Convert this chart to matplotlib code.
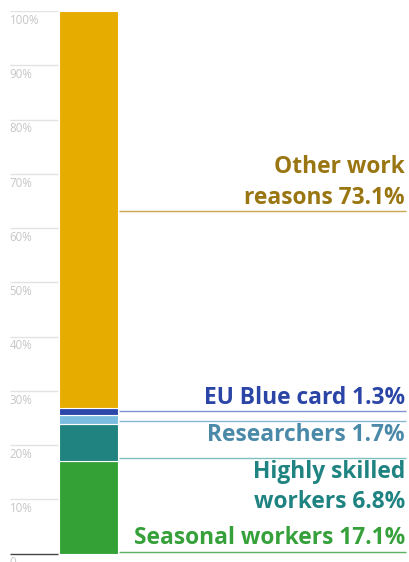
import matplotlib
import matplotlib.pyplot as plt
import numpy as np

matplotlib.rcParams['font.family'] = 'Open Sans'

# data
categories = ['Seasonal workers', 'Highly skilled\nworkers', 'Researchers',
              'EU Blue card', 'Other work\nreasons']
shares = [17.1, 6.8, 1.7, 1.3, 73.1]
tick_values = [0, 10, 20, 30, 40, 50, 60, 70, 80, 90, 100]
tick_labels = ['0', '10%', '20%', '30%', '40%', '50%', '60%', '70%', '80%', '90%', '100%']

bar_colors = ['#34a136', '#21837f', '#7bbde0', '#2b47a9', '#e6ac00']
text_colors = ['#36a03a', '#1f8381', '#4b89a9', '#2b45a6', '#9a7612']
line_colors = ['#5cb05e', '#7fc0bf', '#86b8d0', '#8290d2', '#c9a64a']

# leader line height (in %) and text placement for each label
leader_y = [0.4, 17.6, 24.4, 26.3, 63.1]
text_va = ['bottom', 'top', 'top', 'bottom', 'bottom']
text_dy = [1.2, -1.5, -1.5, 0.8, 0.8]
text_ls = [1.2, 1.32, 1.2, 1.2, 1.42]

W, H = 409, 562
fig = plt.figure(figsize=(W / 100, H / 100), dpi=100)
# y: 0% at pixel 553.7, 100% at pixel 11
ax = fig.add_axes([0, (H - 553.7) / H, 1, (553.7 - 11) / H])
ax.set_xlim(0, W)
ax.set_ylim(0, 100)
ax.axis('off')

# gridlines + tick labels
grid_x0, grid_x1 = 10, 58
for v, lab in zip(tick_values, tick_labels):
    if v == 0:
        ax.plot([grid_x0, grid_x1], [v, v], color='#444444', lw=1.0,
                solid_capstyle='butt', clip_on=False)
    else:
        ax.plot([grid_x0, grid_x1], [v, v], color='#e3e3e3', lw=1.0,
                solid_capstyle='butt')
    ax.annotate(lab, (grid_x0 - 0.5, v), xytext=(0, -2), textcoords='offset points',
                ha='left', va='top', fontsize=8.3, color='#c6c6c6',
                annotation_clip=False)

# stacked bar
bar_x0, bar_x1 = 59, 118
bottoms = np.concatenate([[0], np.cumsum(shares)[:-1]])
ax.bar((bar_x0 + bar_x1) / 2, shares, bottom=bottoms, width=bar_x1 - bar_x0,
       color=bar_colors, edgecolor='white', linewidth=0.8)

# leader lines and labels
line_x1 = 406
for cat, val, ly, va, dy, ls, tc, lc in zip(categories, shares, leader_y, text_va,
                                            text_dy, text_ls, text_colors, line_colors):
    ax.plot([bar_x1 + 1, line_x1], [ly, ly], color=lc, lw=1.0,
            solid_capstyle='butt')
    ax.annotate(f'{cat} {val}%', (line_x1 - 1, ly), xytext=(0, dy),
                textcoords='offset points', ha='right', va=va,
                fontsize=16.4, fontweight='bold', color=tc, linespacing=ls)

fig.savefig('out.png', dpi=100)
